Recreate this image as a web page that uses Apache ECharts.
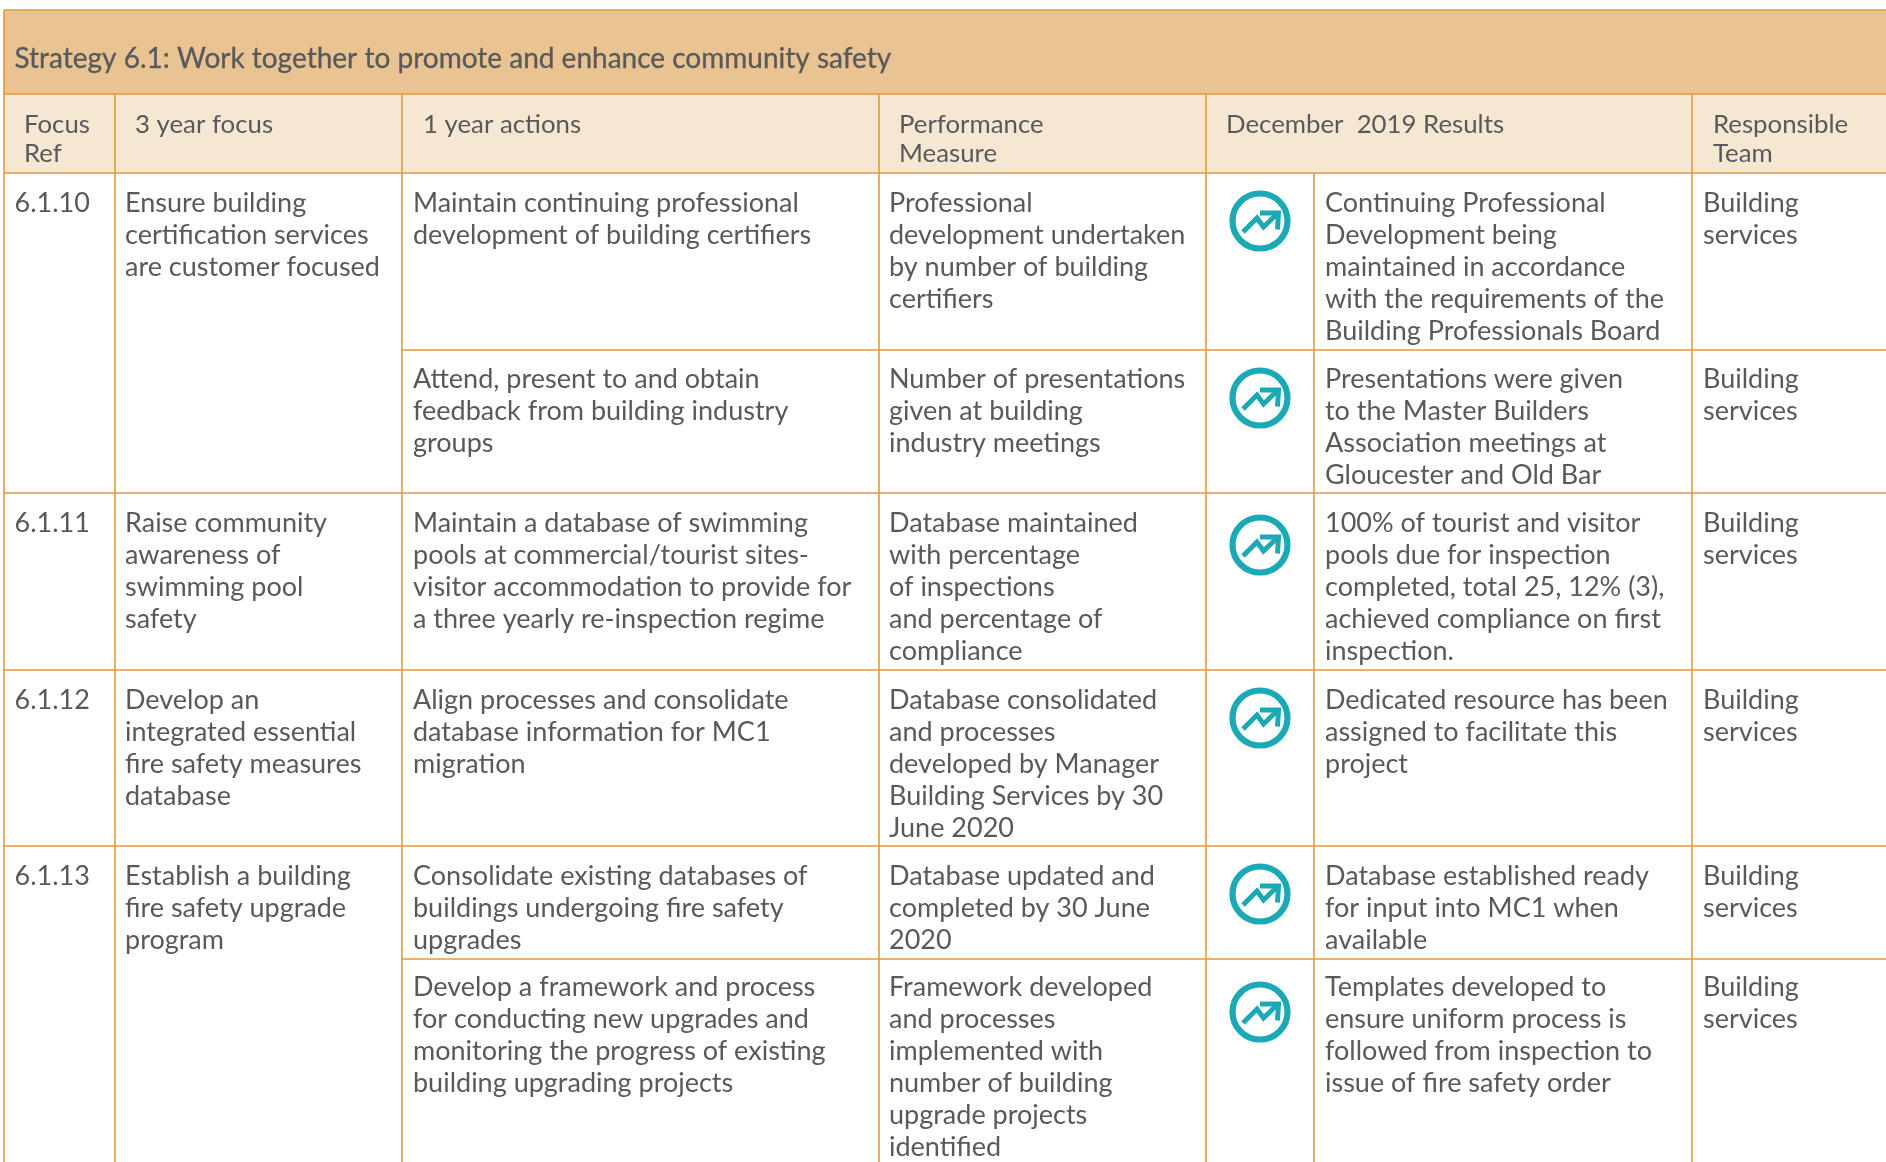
<!DOCTYPE html>
<html><head><meta charset="utf-8">
<style>html,body{margin:0;padding:0;background:#fff}#c{width:1886px;height:1162px}</style>
<script src="https://cdn.jsdelivr.net/npm/echarts@6/dist/echarts.min.js"></script>
</head><body><div id="c"></div>
<script>
const title = "Strategy 6.1: Work together to promote and enhance community safety";
const headers = ["Focus\nRef","3 year focus","1 year actions","Performance\nMeasure","December  2019 Results","Responsible\nTeam"];
const focusRefs = ["6.1.10","6.1.11","6.1.12","6.1.13"];
const threeYearFocus = ["Ensure building\ncertification services\nare customer focused",
 "Raise community\nawareness of\nswimming pool\nsafety",
 "Develop an\nintegrated essential\nfire safety measures\ndatabase",
 "Establish a building\nfire safety upgrade\nprogram"];
const oneYearActions = ["Maintain continuing professional\ndevelopment of building certifiers",
 "Attend, present to and obtain\nfeedback from building industry\ngroups",
 "Maintain a database of swimming\npools at commercial/tourist sites-\nvisitor accommodation to provide for\na three yearly re-inspection regime",
 "Align processes and consolidate\ndatabase information for MC1\nmigration",
 "Consolidate existing databases of\nbuildings undergoing fire safety\nupgrades",
 "Develop a framework and process\nfor conducting new upgrades and\nmonitoring the progress of existing\nbuilding upgrading projects"];
const measures = ["Professional\ndevelopment undertaken\nby number of building\ncertifiers",
 "Number of presentations\ngiven at building\nindustry meetings",
 "Database maintained\nwith percentage\nof inspections\nand percentage of\ncompliance",
 "Database consolidated\nand processes\ndeveloped by Manager\nBuilding Services by 30\nJune 2020",
 "Database updated and\ncompleted by 30 June\n2020",
 "Framework developed\nand processes\nimplemented with\nnumber of building\nupgrade projects\nidentified"];
const results = ["Continuing Professional\nDevelopment being\nmaintained in accordance\nwith the requirements of the\nBuilding Professionals Board",
 "Presentations were given\nto the Master Builders\nAssociation meetings at\nGloucester and Old Bar",
 "100% of tourist and visitor\npools due for inspection\ncompleted, total 25, 12% (3),\nachieved compliance on first\ninspection.",
 "Dedicated resource has been\nassigned to facilitate this\nproject",
 "Database established ready\nfor input into MC1 when\navailable",
 "Templates developed to\nensure uniform process is\nfollowed from inspection to\nissue of fire safety order"];
const teams = ["Building\nservices","Building\nservices","Building\nservices","Building\nservices","Building\nservices","Building\nservices"];

// layout (page pixels, read through the hidden axes)
const W=1886,H=1162;
const colX=[4,115,402,879,1206,1314,1692];
const topY=10,headTop=94,bodyTop=173;
const rowY=[173,350,493,670,846,959,1162];
const rowTextOffset=[14,13,14,14,14,12.6];
const focusRows=[0,2,3,4];
const iconY=[221,398,545,718,894,1012];
const iconX=1260;
const LINE='#E4993C',TXT='#58595B',TEAL='#1BA9B6';
const FONT='Lato',FS=27,LH=32;

const rects=[[colX[0],topY,W,headTop,'#E9C492'],[colX[0],headTop,W,bodyTop,'#F6E7D2']];
const segs=[[colX[0],topY,W,topY],[colX[0],headTop,W,headTop],[colX[0],bodyTop,W,bodyTop],[colX[0],topY,colX[0],H]];
[1,2,3,4,6].forEach(i=>segs.push([colX[i],headTop,colX[i],H]));
segs.push([colX[5],bodyTop,colX[5],H]);
focusRows.forEach((r,i)=>{ if(i>0) segs.push([colX[0],rowY[r],W,rowY[r]]); });
[1,5].forEach(r=>segs.push([colX[2],rowY[r],W,rowY[r]]));

const texts=[];
function put(t,x,y,fs,lh,w){texts.push([x,y,t,fs,lh,w||400]);}
put(title,14.5,43,28,32,500);
const headX=[24,135,423,899,1226,1713];
headers.forEach((h,i)=>put(h,headX[i],110,25.8,29,400));
focusRefs.forEach((t,i)=>put(t,14.5,rowY[focusRows[i]]+rowTextOffset[focusRows[i]],FS,LH));
threeYearFocus.forEach((t,i)=>put(t,125,rowY[focusRows[i]]+rowTextOffset[focusRows[i]],FS,LH));
oneYearActions.forEach((t,i)=>put(t,413,rowY[i]+rowTextOffset[i],FS,LH));
measures.forEach((t,i)=>put(t,889,rowY[i]+rowTextOffset[i],FS,LH));
results.forEach((t,i)=>put(t,1325,rowY[i]+rowTextOffset[i],FS,LH));
teams.forEach((t,i)=>put(t,1703,rowY[i]+rowTextOffset[i],FS,LH));

const icons=iconY.map(y=>[iconX,y]);

const chart=echarts.init(document.getElementById('c'),null,{renderer:'canvas'});
chart.setOption({
 animation:false,
 grid:{left:0,right:0,top:0,bottom:0},
 xAxis:{type:'value',min:0,max:W,show:false},
 yAxis:{type:'value',min:0,max:H,inverse:true,show:false},
 tooltip:{show:false},
 series:[
 {type:'custom',silent:true,clip:false,z:1,data:rects,encode:{x:[0,2],y:[1,3]},renderItem(p,api){
   const a=api.coord([api.value(0),api.value(1)]),b=api.coord([api.value(2),api.value(3)]);
   return {type:'rect',shape:{x:a[0],y:a[1],width:b[0]-a[0],height:b[1]-a[1]},style:{fill:rects[p.dataIndex][4]}};
 }},
 {type:'custom',silent:true,clip:false,z:2,data:segs,encode:{x:[0,2],y:[1,3]},renderItem(p,api){
   const a=api.coord([api.value(0),api.value(1)]),b=api.coord([api.value(2),api.value(3)]);
   return {type:'line',shape:{x1:a[0],y1:a[1],x2:b[0],y2:b[1]},style:{stroke:LINE,lineWidth:1.6}};
 }},
 {type:'custom',silent:true,clip:false,z:3,data:icons,encode:{x:0,y:1},renderItem(p,api){
   const c=api.coord([api.value(0),api.value(1)]);
   const st={stroke:TEAL,fill:'none',lineCap:'butt',lineJoin:'miter'};
   return {type:'group',x:c[0],y:c[1],children:[
    {type:'circle',shape:{cx:0,cy:0,r:27.5},style:{...st,lineWidth:6.2}},
    {type:'polyline',shape:{points:[[-17,11],[-3,-3],[3.5,6],[18,-8]]},style:{...st,lineWidth:5}},
    {type:'polyline',shape:{points:[[0,-8],[18.5,-8],[17.5,8.5]]},style:{...st,lineWidth:5}}
   ]};
 }},
 {type:'custom',silent:false,clip:false,z:4,data:texts.map(t=>[t[0],t[1]]),encode:{x:0,y:1},renderItem(p,api){
   const t=texts[p.dataIndex],c=api.coord([api.value(0),api.value(1)]);
   const style={text:t[2],fill:TXT,fontFamily:FONT,fontSize:t[3],fontWeight:400,lineHeight:t[4],align:'left',verticalAlign:'top'};
   if(t[5]===500){style.stroke=TXT;style.lineWidth=0.3;}
   return {type:'text',x:c[0],y:c[1],style};
 }}
 ]
});
</script></body></html>
